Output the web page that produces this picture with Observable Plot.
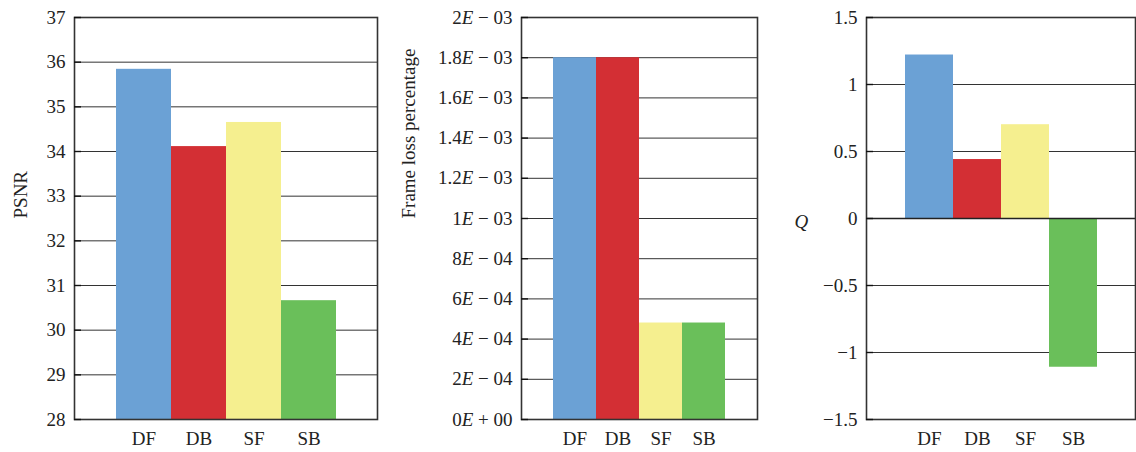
<!DOCTYPE html>
<html>
<head>
<meta charset="utf-8">
<script src="https://cdn.jsdelivr.net/npm/d3@7"></script>
<script src="https://cdn.jsdelivr.net/npm/@observablehq/plot@0.6"></script>
<style>
  html, body { margin: 0; padding: 0; background: #fff; }
  #wrap { position: relative; width: 1136px; height: 452px; overflow: hidden; }
  #wrap svg { position: absolute; top: 0; }
</style>
</head>
<body>
<div id="wrap"></div>
<script>
// ---- data ----
const categories = ["DF", "DB", "SF", "SB"];
const colors = ["#6ba1d5", "#d32f34", "#f5ef8f", "#6abf5a"];

const psnrValues = [35.84, 34.11, 34.65, 30.66];
const psnrTicks = [28, 29, 30, 31, 32, 33, 34, 35, 36, 37];

const lossValues = [0.0018, 0.0018, 0.00048, 0.00048];
const lossTicks = [0, 0.0002, 0.0004, 0.0006, 0.0008, 0.001, 0.0012, 0.0014, 0.0016, 0.0018, 0.002];
const lossTickLabels = ["0E + 00", "2E − 04", "4E − 04", "6E − 04", "8E − 04", "1E − 03",
                        "1.2E − 03", "1.4E − 03", "1.6E − 03", "1.8E − 03", "2E − 03"];

const qValues = [1.22, 0.44, 0.70, -1.11];
const qTicks = [-1.5, -1, -0.5, 0, 0.5, 1, 1.5];
const qTickLabels = ["−1.5", "−1", "−0.5", "0", "0.5", "1", "1.5"];

const yLabels = ["PSNR", "Frame loss percentage", "Q"];

// ---- drawing ----
const wrap = document.getElementById("wrap");
const FONT = "'Liberation Serif', 'DejaVu Serif', serif";

function panel({left, width, marginLeft, marginRight, paddingOuter, values, domain, ticks, tickFormat, labelMarks, zeroLine}) {
  const data = categories.map((c, i) => ({cat: c, value: values[i], color: colors[i]}));
  const marks = [
    Plot.gridY(ticks, {stroke: "#333", strokeOpacity: 1, strokeWidth: 1}),
    Plot.barY(data, {x: "cat", y: "value", fill: "color", clip: true}),
  ];
  if (zeroLine) marks.push(Plot.ruleY([0], {stroke: "#222", strokeWidth: 1.6}));
  marks.push(
    Plot.frame({stroke: "#333", strokeWidth: 1.6}),
    Plot.axisY(ticks, {anchor: "left", tickSize: 7, dx: 7, text: null, stroke: "#111", strokeWidth: 1.4}),
    Plot.axisY(ticks, {anchor: "left", tickSize: 0, tickPadding: 9, tickFormat, label: null, fill: "#222", fontFamily: FONT}),
    Plot.axisX({tickSize: 0, tickPadding: 12, label: null, fill: "#222", fontFamily: FONT}),
    ...labelMarks
  );
  const svg = Plot.plot({
    width, height: 452,
    marginLeft, marginRight, marginTop: 17, marginBottom: 33,
    style: {fontFamily: FONT, fontSize: "19px", color: "#222", background: "transparent"},
    x: {domain: categories, paddingInner: 0, paddingOuter, align: 0.5, label: null},
    y: {domain, label: null},
    marks
  });
  svg.style.left = left + "px";
  wrap.appendChild(svg);
  return svg;
}

// Panel 1: PSNR
panel({
  left: 0, width: 385, marginLeft: 74, marginRight: 8, paddingOuter: 0.73,
  values: psnrValues, domain: [28, 37], ticks: psnrTicks,
  tickFormat: d => String(d),
  labelMarks: [Plot.text([yLabels[0]], {frameAnchor: "left", dx: -54, rotate: -90, fill: "#222", fontSize: 19})]
});

// Panel 2: Frame loss percentage
const svg2 = panel({
  left: 390, width: 372, marginLeft: 131, marginRight: 5, paddingOuter: 0.697,
  values: lossValues, domain: [0, 0.002], ticks: lossTicks,
  tickFormat: (d, i) => lossTickLabels[lossTicks.findIndex(t => Math.abs(t - d) < 1e-9)],
  labelMarks: [Plot.text([yLabels[1]], {frameAnchor: "left", dx: -113, rotate: -90, fill: "#222", fontSize: 19})]
});
// italic E in scientific labels
svg2.querySelectorAll("text").forEach(t => {
  const s = t.textContent;
  if (/E [+−] /.test(s) && t.children.length === 0) {
    const [a, b] = s.split("E");
    t.textContent = "";
    t.appendChild(document.createTextNode(a));
    const ts = document.createElementNS("http://www.w3.org/2000/svg", "tspan");
    ts.setAttribute("font-style", "italic");
    ts.textContent = "E";
    t.appendChild(ts);
    t.appendChild(document.createTextNode(b));
  }
});

// Panel 3: Q
panel({
  left: 770, width: 366, marginLeft: 96, marginRight: 1, paddingOuter: 0.773,
  values: qValues, domain: [-1.5, 1.5], ticks: qTicks,
  tickFormat: d => qTickLabels[qTicks.findIndex(t => Math.abs(t - d) < 1e-9)],
  zeroLine: true,
  labelMarks: [Plot.text([yLabels[2]], {frameAnchor: "left", dx: -72, dy: 3, fill: "#222", fontSize: 19, fontStyle: "italic"})]
});
</script>
</body>
</html>
